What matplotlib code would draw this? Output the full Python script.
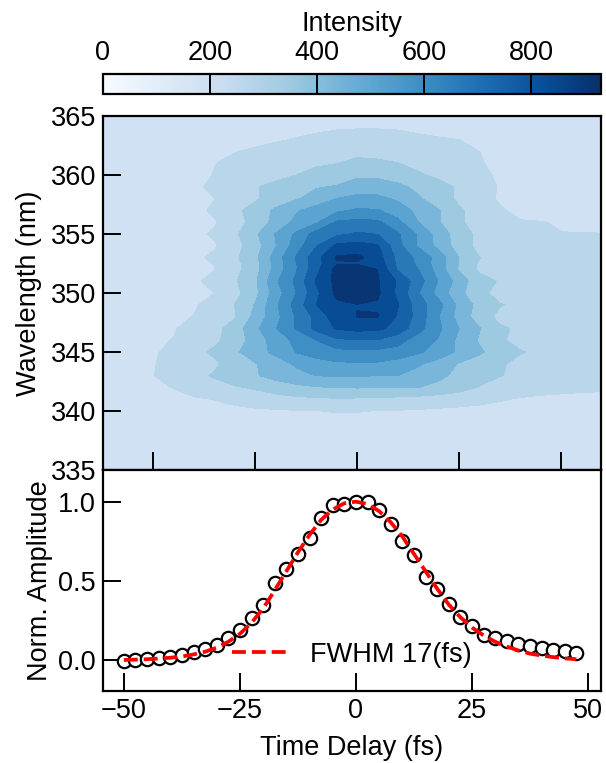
import matplotlib
matplotlib.use('Agg')
import matplotlib.pyplot as plt
import numpy as np
from matplotlib.cm import ScalarMappable
from matplotlib.colors import Normalize

plt.rcParams['font.family'] = ['Liberation Sans', 'DejaVu Sans']
plt.rcParams['font.size'] = 19.5

# contour map
time_map = [-65, -60, -55, -50, -45, -40, -35, -30, -25, -20, -15, -10, -5, 0,
            5, 10, 15, 20, 25, 30, 35, 40, 45, 50, 55, 60]
wavelength = [335, 337, 339, 340, 341, 342, 343, 344, 345, 346, 347, 348, 349, 350,
              351, 352, 352.5, 353, 354, 355, 356, 357, 358, 359, 360, 361, 362, 363, 364, 365]
intensity = [
    [165, 165, 165, 165, 165, 165, 165, 165, 165, 165, 166, 166, 166, 166, 166, 166, 166, 165, 165, 165, 165, 165, 165, 165, 165, 165],
    [170, 170, 170, 171, 172, 173, 174, 175, 176, 177, 178, 179, 180, 180, 180, 179, 178, 177, 176, 175, 174, 173, 172, 172, 171, 171],
    [172, 173, 174, 176, 178, 181, 185, 190, 195, 200, 205, 209, 213, 215, 213, 209, 205, 200, 196, 192, 188, 185, 183, 182, 181, 180],
    [175, 175, 178, 182, 188, 195, 205, 212, 218, 222, 226, 229, 233, 232, 229, 226, 222, 218, 215, 212, 208, 205, 205, 205, 205, 205],
    [178, 180, 188, 198, 212, 222, 232, 250, 268, 282, 292, 298, 303, 300, 296, 290, 282, 270, 258, 248, 236, 225, 220, 218, 217, 216],
    [180, 190, 205, 218, 232, 262, 290, 303, 320, 345, 368, 385, 392, 395, 394, 393, 391, 375, 345, 305, 280, 262, 250, 245, 240, 238],
    [185, 198, 215, 228, 265, 295, 316, 350, 382, 420, 450, 472, 475, 478, 470, 470, 442, 403, 375, 345, 313, 295, 280, 272, 255, 250],
    [185, 195, 212, 226, 252, 280, 298, 345, 385, 435, 480, 510, 538, 542, 540, 515, 480, 440, 385, 355, 320, 290, 270, 270, 262, 255],
    [185, 195, 208, 222, 250, 292, 322, 375, 435, 490, 553, 595, 605, 612, 608, 600, 563, 515, 455, 402, 350, 315, 295, 270, 262, 258],
    [185, 192, 205, 218, 232, 262, 293, 348, 425, 505, 570, 630, 695, 708, 706, 660, 590, 543, 450, 382, 320, 288, 270, 268, 262, 256],
    [185, 190, 200, 212, 224, 258, 285, 345, 450, 545, 635, 735, 798, 815, 810, 760, 660, 565, 470, 395, 320, 300, 285, 265, 258, 252],
    [182, 188, 196, 205, 215, 232, 252, 302, 415, 522, 638, 735, 835, 872, 875, 780, 680, 552, 440, 350, 290, 272, 260, 262, 255, 250],
    [180, 186, 192, 200, 208, 222, 258, 312, 395, 535, 660, 790, 855, 868, 860, 795, 670, 575, 450, 360, 315, 292, 278, 258, 250, 247],
    [182, 190, 195, 200, 210, 220, 230, 285, 365, 510, 630, 770, 890, 925, 885, 770, 635, 520, 410, 335, 280, 260, 250, 255, 250, 245],
    [178, 185, 192, 198, 207, 219, 250, 300, 375, 535, 645, 800, 892, 915, 878, 780, 665, 545, 435, 335, 305, 285, 272, 255, 248, 244],
    [176, 182, 188, 195, 205, 216, 228, 285, 360, 500, 622, 768, 900, 920, 870, 700, 630, 515, 380, 298, 275, 255, 245, 248, 242, 238],
    [175, 181, 187, 193, 203, 215, 232, 287, 360, 498, 623, 760, 860, 862, 850, 690, 615, 510, 385, 300, 280, 255, 246, 245, 240, 236],
    [175, 180, 186, 192, 202, 214, 245, 295, 370, 505, 635, 762, 880, 890, 830, 685, 610, 515, 390, 312, 285, 265, 247, 242, 238, 235],
    [172, 178, 184, 190, 198, 212, 222, 280, 355, 465, 590, 705, 808, 822, 800, 655, 540, 445, 355, 285, 250, 238, 238, 235, 232, 232],
    [170, 175, 180, 186, 195, 208, 241, 295, 375, 475, 562, 665, 695, 720, 708, 640, 540, 435, 350, 290, 255, 240, 232, 231, 231, 231],
    [168, 172, 176, 182, 192, 205, 222, 275, 340, 415, 490, 538, 640, 652, 645, 570, 470, 395, 325, 265, 235, 234, 232, 226, 222, 218],
    [165, 170, 175, 180, 190, 205, 245, 292, 340, 405, 460, 505, 535, 560, 556, 510, 450, 395, 322, 275, 237, 215, 205, 198, 192, 188],
    [165, 170, 175, 180, 190, 208, 228, 265, 300, 342, 382, 420, 470, 495, 490, 458, 400, 350, 295, 255, 222, 205, 195, 190, 185, 182],
    [163, 168, 172, 178, 188, 212, 250, 278, 305, 328, 360, 385, 395, 425, 425, 408, 372, 335, 300, 260, 225, 205, 190, 185, 180, 178],
    [162, 165, 170, 176, 185, 205, 233, 255, 270, 290, 310, 335, 355, 375, 375, 350, 318, 295, 265, 242, 222, 200, 188, 182, 178, 175],
    [160, 163, 168, 172, 180, 195, 228, 245, 255, 272, 285, 298, 308, 328, 322, 311, 292, 272, 252, 235, 215, 196, 185, 180, 176, 173],
    [160, 162, 166, 170, 176, 190, 210, 228, 238, 250, 262, 272, 280, 290, 288, 278, 265, 255, 242, 230, 210, 192, 182, 176, 172, 170],
    [158, 160, 164, 168, 172, 180, 192, 205, 215, 224, 234, 242, 248, 250, 250, 247, 240, 235, 230, 215, 200, 186, 178, 172, 168, 166],
    [158, 158, 160, 165, 168, 172, 180, 188, 196, 204, 212, 220, 226, 228, 228, 226, 220, 212, 204, 196, 186, 178, 172, 168, 165, 164],
    [156, 156, 158, 160, 162, 165, 170, 175, 182, 188, 192, 196, 198, 200, 200, 198, 195, 190, 185, 180, 175, 170, 166, 163, 161, 160],
]
contour_levels = [150, 230, 310, 390, 470, 550, 630, 710, 790, 870, 950]

# lower panel
time_delay = [-50, -47.5, -45, -42.5, -40, -37.5, -35, -32.5, -30, -27.5, -25, -22.5, -20, -17.5,
              -15, -12.5, -10, -7.5, -5, -2.5, 0, 2.5, 5, 7.5, 10, 12.5, 15, 17.5, 20, 22.5,
              25, 27.5, 30, 32.5, 35, 37.5, 40, 42.5, 45, 47.5]
amplitude = [-0.005, 0.0, 0.005, 0.012, 0.017, 0.03, 0.05, 0.067, 0.097, 0.14, 0.188, 0.268, 0.35, 0.485,
             0.576, 0.669, 0.772, 0.897, 0.98, 0.985, 0.998, 1.0, 0.95, 0.861, 0.753, 0.662, 0.527, 0.451,
             0.352, 0.274, 0.217, 0.158, 0.137, 0.118, 0.101, 0.086, 0.078, 0.063, 0.055, 0.046]
fit = [0.0, 0.002, 0.005, 0.009, 0.014, 0.022, 0.035, 0.052, 0.078, 0.115, 0.165, 0.235, 0.325, 0.44,
       0.56, 0.68, 0.79, 0.885, 0.95, 0.99, 1.0, 0.985, 0.94, 0.87, 0.78, 0.67, 0.56, 0.45,
       0.35, 0.27, 0.205, 0.155, 0.115, 0.085, 0.06, 0.04, 0.028, 0.018, 0.01, 0.005]

W, H = 606, 763


def box(x0, y0, x1, y1):
    # pixel box, y from the top
    return [x0 / W, 1 - y1 / H, (x1 - x0) / W, (y1 - y0) / H]


fig = plt.figure(figsize=(W / 100, H / 100), dpi=100)
cax = fig.add_axes(box(103, 74, 601, 94))
ax1 = fig.add_axes(box(103, 116, 601, 470))
ax2 = fig.add_axes(box(103, 470, 601, 691))

norm = Normalize(0, 930)
ax1.contourf(time_map, wavelength, intensity, levels=contour_levels, cmap='Blues', norm=norm)
ax1.set_xlim(-62.3, 59.8)
ax1.set_ylim(335, 365)
ax1.set_xticks([-50, -25, 0, 25, 50])
ax1.set_yticks([335, 340, 345, 350, 355, 360, 365])
ax1.tick_params(axis='x', labelbottom=False)
ax1.set_ylabel('Wavelength (nm)', labelpad=6)

cb = fig.colorbar(ScalarMappable(norm=norm, cmap='Blues'), cax=cax, orientation='horizontal')
cb.set_ticks([0, 200, 400, 600, 800])
cax.xaxis.set_ticks_position('top')
cax.xaxis.set_label_position('top')
cb.set_label('Intensity', labelpad=6)
cb.outline.set_linewidth(1.6)

ax2.plot(time_delay, amplitude, 'o', ms=9.6, mfc='white', mec='black', mew=1.6)
ax2.plot(time_delay, fit, '--', color='red', lw=2.7, label='FWHM 17(fs)')
ax2.set_xlim(-54.5, 52.8)
ax2.set_ylim(-0.196, 1.2)
ax2.set_xticks([-50, -25, 0, 25, 50])
ax2.set_yticks([0.0, 0.5, 1.0])
ax2.set_xlabel('Time Delay (fs)', labelpad=8)
ax2.set_ylabel('Norm. Amplitude', labelpad=4)
ax2.legend(loc='center', bbox_to_anchor=(0.50, 0.163), frameon=False, handlelength=2.0,
           handletextpad=0.9, borderpad=0, borderaxespad=0)

for ax in (ax1, ax2):
    ax.tick_params(direction='in', length=13, width=1.4, pad=5)
    for sp in ax.spines.values():
        sp.set_linewidth(1.6)
cax.tick_params(axis='x', direction='in', length=14.4, width=1.4, pad=6, top=True, bottom=False)

fig.savefig('out.png', dpi=100)
